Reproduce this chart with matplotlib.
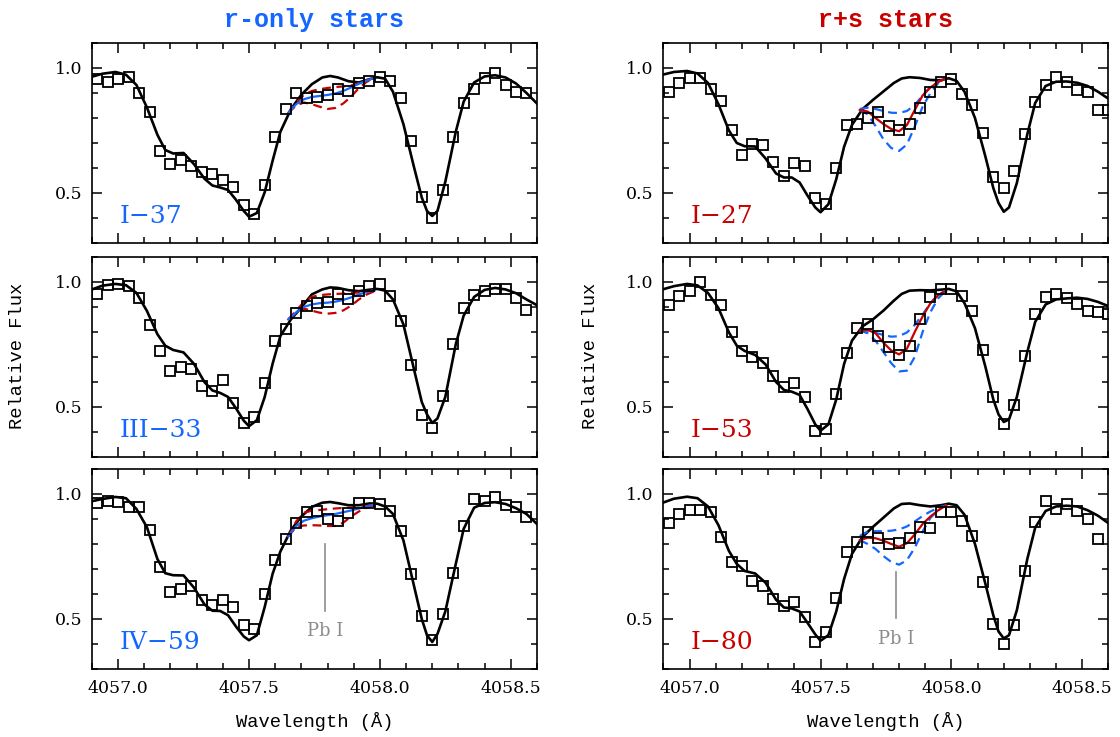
import numpy as np
import matplotlib
matplotlib.use("Agg")
import matplotlib.pyplot as plt
from matplotlib.ticker import MultipleLocator, FormatStrFormatter

# colores
BLUE = "#1466ff"
RED = "#c80000"
GREY = "#8c8c8c"

# ---- datos ----
# malla del espectro sintetico (comun a los 6 paneles)
wave_syn = [4056.90, 4056.94, 4056.99, 4057.03, 4057.07, 4057.11, 4057.15, 4057.18, 4057.21, 4057.25,
            4057.29, 4057.33, 4057.36, 4057.39, 4057.42, 4057.45, 4057.48, 4057.50, 4057.53, 4057.56,
            4057.59, 4057.62, 4057.66, 4057.70, 4057.74, 4057.78, 4057.81, 4057.84, 4057.88, 4057.92,
            4057.96, 4057.99, 4058.02, 4058.05, 4058.09, 4058.13, 4058.16, 4058.18, 4058.20, 4058.22,
            4058.25, 4058.29, 4058.32, 4058.36, 4058.40, 4058.44, 4058.48, 4058.52, 4058.56, 4058.60]

# malla de los puntos observados
wave_obs = [4056.92, 4056.96, 4057.00, 4057.04, 4057.08, 4057.12, 4057.16, 4057.20, 4057.24, 4057.28,
            4057.32, 4057.36, 4057.40, 4057.44, 4057.48, 4057.52, 4057.56, 4057.60, 4057.64, 4057.68,
            4057.72, 4057.76, 4057.80, 4057.84, 4057.88, 4057.92, 4057.96, 4058.00, 4058.04, 4058.08,
            4058.12, 4058.16, 4058.20, 4058.24, 4058.28, 4058.32, 4058.36, 4058.40, 4058.44, 4058.48,
            4058.52, 4058.56, 4058.60]

# malla de los ajustes de Pb I
wave_pb = [4057.65, 4057.68, 4057.71, 4057.74, 4057.77, 4057.80, 4057.83, 4057.86, 4057.89, 4057.92,
           4057.95, 4057.98]

nan = np.nan

# --- estrellas r-only ---
syn_I37 = [0.965, 0.977, 0.984, 0.973, 0.932, 0.842, 0.733, 0.672, 0.658, 0.660,
           0.615, 0.557, 0.530, 0.522, 0.512, 0.473, 0.428, 0.405, 0.420, 0.503,
           0.628, 0.745, 0.835, 0.893, 0.935, 0.962, 0.968, 0.962, 0.947, 0.942,
           0.955, 0.963, 0.957, 0.905, 0.775, 0.605, 0.482, 0.428, 0.408, 0.428,
           0.545, 0.745, 0.865, 0.942, 0.966, 0.971, 0.962, 0.938, 0.900, 0.858]
obs_I37 = [0.954, 0.945, 0.955, 0.964, 0.901, 0.823, 0.666, 0.615, 0.632, 0.606,
           0.582, 0.575, 0.553, 0.522, 0.452, 0.414, 0.533, 0.723, 0.835, 0.898,
           0.881, 0.885, 0.892, 0.914, 0.909, 0.938, 0.947, 0.964, 0.949, 0.879,
           0.707, 0.483, 0.401, 0.513, 0.723, 0.859, 0.914, 0.958, 0.978, 0.931,
           0.902, 0.901, nan]
fit_I37 = [0.820, 0.855, 0.875, 0.884, 0.888, 0.892, 0.898, 0.908, 0.922, 0.937, 0.950, 0.960]
lo_I37 = [0.820, 0.850, 0.862, 0.855, 0.845, 0.836, 0.840, 0.858, 0.885, 0.920, 0.945, 0.958]
hi_I37 = [0.820, 0.860, 0.893, 0.908, 0.915, 0.920, 0.924, 0.926, 0.930, 0.940, 0.952, 0.960]

syn_III33 = [0.970, 0.985, 0.992, 0.987, 0.956, 0.884, 0.791, 0.745, 0.728, 0.718,
             0.672, 0.599, 0.566, 0.556, 0.540, 0.495, 0.445, 0.423, 0.447, 0.540,
             0.672, 0.784, 0.850, 0.898, 0.950, 0.970, 0.978, 0.976, 0.967, 0.963,
             0.969, 0.972, 0.965, 0.930, 0.830, 0.652, 0.520, 0.470, 0.436, 0.454,
             0.540, 0.751, 0.865, 0.940, 0.968, 0.976, 0.970, 0.955, 0.930, 0.907]
obs_III33 = [0.950, 0.989, 0.993, 0.985, 0.935, 0.829, 0.725, 0.642, 0.661, 0.651,
             0.582, 0.563, 0.607, 0.517, 0.434, 0.458, 0.597, 0.765, 0.813, 0.877,
             0.902, 0.917, 0.918, 0.952, 0.930, 0.964, 0.984, 0.991, 0.942, 0.843,
             0.668, 0.467, 0.414, 0.544, 0.750, 0.897, 0.946, 0.962, 0.972, 0.970,
             0.934, 0.886, nan]
fit_III33 = [0.850, 0.878, 0.900, 0.910, 0.915, 0.917, 0.921, 0.928, 0.938, 0.950, 0.960, 0.966]
lo_III33 = [0.850, 0.875, 0.893, 0.885, 0.877, 0.873, 0.876, 0.886, 0.905, 0.930, 0.950, 0.963]
hi_III33 = [0.850, 0.885, 0.920, 0.940, 0.947, 0.950, 0.952, 0.953, 0.955, 0.958, 0.962, 0.966]

syn_IV59 = [0.971, 0.980, 0.988, 0.983, 0.940, 0.867, 0.740, 0.683, 0.675, 0.674,
            0.625, 0.558, 0.533, 0.532, 0.515, 0.470, 0.430, 0.415, 0.435, 0.548,
            0.680, 0.770, 0.855, 0.910, 0.948, 0.965, 0.968, 0.963, 0.955, 0.955,
            0.962, 0.961, 0.950, 0.920, 0.814, 0.634, 0.500, 0.435, 0.408, 0.440,
            0.530, 0.720, 0.860, 0.945, 0.964, 0.967, 0.960, 0.943, 0.920, 0.880]
obs_IV59 = [0.963, 0.971, 0.967, 0.947, 0.947, 0.856, 0.707, 0.608, 0.621, 0.630,
            0.574, 0.557, 0.577, 0.548, 0.475, 0.461, 0.598, 0.737, 0.820, 0.883,
            0.927, 0.931, 0.900, 0.891, 0.923, 0.964, 0.964, 0.960, 0.931, 0.851,
            0.678, 0.511, 0.415, 0.519, 0.685, 0.870, 0.980, 0.971, 0.987, 0.957,
            0.949, 0.907, nan]
fit_IV59 = [0.830, 0.872, 0.893, 0.903, 0.910, 0.915, 0.920, 0.927, 0.934, 0.942, 0.950, 0.958]
lo_IV59 = [0.830, 0.868, 0.874, 0.875, 0.874, 0.872, 0.872, 0.885, 0.910, 0.930, 0.945, 0.956]
hi_IV59 = [0.830, 0.890, 0.925, 0.933, 0.936, 0.939, 0.942, 0.944, 0.946, 0.948, 0.952, 0.958]

# --- estrellas r+s ---
syn_I27 = [0.974, 0.984, 0.988, 0.978, 0.940, 0.855, 0.750, 0.700, 0.687, 0.686,
           0.638, 0.578, 0.562, 0.562, 0.542, 0.490, 0.442, 0.423, 0.455, 0.555,
           0.685, 0.772, 0.835, 0.872, 0.906, 0.940, 0.958, 0.963, 0.960, 0.952,
           0.951, 0.959, 0.948, 0.905, 0.800, 0.645, 0.520, 0.460, 0.425, 0.442,
           0.540, 0.735, 0.860, 0.928, 0.945, 0.946, 0.941, 0.928, 0.905, 0.877]
obs_I27 = [0.902, 0.938, 0.958, 0.958, 0.914, 0.869, 0.751, 0.650, 0.694, 0.691,
           0.624, 0.566, 0.621, 0.606, 0.479, 0.454, 0.599, 0.770, 0.776, 0.799,
           0.822, 0.766, 0.751, 0.776, 0.839, 0.902, 0.942, 0.955, 0.896, 0.850,
           0.740, 0.562, 0.518, 0.586, 0.734, 0.865, 0.931, 0.962, 0.945, 0.912,
           0.902, 0.832, 0.832]
fit_I27 = [0.832, 0.826, 0.800, 0.776, 0.756, 0.747, 0.772, 0.832, 0.890, 0.922, 0.945, 0.958]
lo_I27 = [0.832, 0.815, 0.768, 0.715, 0.680, 0.668, 0.694, 0.766, 0.845, 0.900, 0.940, 0.958]
hi_I27 = [0.836, 0.841, 0.836, 0.828, 0.821, 0.820, 0.828, 0.852, 0.890, 0.925, 0.945, 0.958]

syn_I53 = [0.971, 0.983, 0.992, 0.986, 0.956, 0.895, 0.798, 0.745, 0.724, 0.708,
           0.670, 0.600, 0.568, 0.561, 0.548, 0.492, 0.430, 0.405, 0.430, 0.530,
           0.672, 0.765, 0.822, 0.850, 0.885, 0.925, 0.952, 0.965, 0.967, 0.966,
           0.969, 0.972, 0.962, 0.915, 0.815, 0.660, 0.530, 0.470, 0.440, 0.450,
           0.540, 0.720, 0.840, 0.910, 0.930, 0.934, 0.937, 0.932, 0.920, 0.903]
obs_I53 = [0.907, 0.943, 0.963, 1.000, 0.947, 0.907, 0.800, 0.722, 0.701, 0.676,
           0.622, 0.579, 0.597, 0.540, 0.405, 0.411, 0.553, 0.716, 0.817, 0.833,
           0.784, 0.741, 0.708, 0.745, 0.851, 0.939, 0.972, 0.972, 0.943, 0.884,
           0.728, 0.540, 0.430, 0.507, 0.705, 0.870, 0.939, 0.952, 0.937, 0.910,
           0.884, 0.880, 0.873]
fit_I53 = [0.805, 0.808, 0.795, 0.757, 0.726, 0.710, 0.733, 0.800, 0.862, 0.915, 0.948, 0.965]
lo_I53 = [0.805, 0.795, 0.765, 0.720, 0.675, 0.642, 0.645, 0.700, 0.800, 0.880, 0.935, 0.966]
hi_I53 = [0.805, 0.805, 0.796, 0.788, 0.781, 0.783, 0.798, 0.828, 0.870, 0.915, 0.950, 0.966]

syn_I80 = [0.966, 0.981, 0.989, 0.983, 0.950, 0.875, 0.772, 0.720, 0.692, 0.682,
           0.645, 0.577, 0.546, 0.542, 0.530, 0.485, 0.438, 0.413, 0.435, 0.530,
           0.660, 0.760, 0.828, 0.868, 0.905, 0.942, 0.960, 0.962, 0.955, 0.950,
           0.955, 0.961, 0.955, 0.917, 0.800, 0.640, 0.515, 0.450, 0.422, 0.435,
           0.535, 0.740, 0.865, 0.932, 0.950, 0.953, 0.950, 0.935, 0.913, 0.883]
obs_I80 = [0.882, 0.921, 0.937, 0.937, 0.928, 0.828, 0.729, 0.711, 0.650, 0.630,
           0.579, 0.553, 0.567, 0.509, 0.409, 0.446, 0.584, 0.768, 0.809, 0.849,
           0.825, 0.799, 0.805, 0.822, 0.867, 0.864, 0.926, 0.928, 0.893, 0.832,
           0.647, 0.479, 0.401, 0.474, 0.693, 0.888, 0.970, 0.939, 0.959, 0.933,
           0.901, 0.818, nan]
fit_I80 = [0.815, 0.825, 0.823, 0.813, 0.800, 0.789, 0.803, 0.838, 0.880, 0.910, 0.935, 0.955]
lo_I80 = [0.815, 0.800, 0.780, 0.752, 0.728, 0.717, 0.735, 0.785, 0.850, 0.905, 0.935, 0.955]
hi_I80 = [0.832, 0.850, 0.851, 0.851, 0.853, 0.858, 0.870, 0.890, 0.912, 0.930, 0.945, 0.955]

# Pb I: posicion de la linea y alturas de la marca
pb_wave = 4057.79
pb_mark = {"left": (0.800, 0.532, 0.452), "right": (0.687, 0.503, 0.418)}

# ---- figura ----
plt.rcParams["font.family"] = "DejaVu Serif"
MONO = "Liberation Mono"

fig = plt.figure(figsize=(11.2, 7.37), dpi=100)

col_x = [0.0821, 0.5924]
row_y = [0.6703, 0.3800, 0.0923]
w, h = 0.3973, 0.2714


def style_axes(ax, bottom_labels):
    ax.set_xlim(4056.9, 4058.6)
    ax.set_ylim(0.30, 1.10)
    ax.xaxis.set_major_locator(MultipleLocator(0.5))
    ax.xaxis.set_minor_locator(MultipleLocator(0.1))
    ax.yaxis.set_major_locator(MultipleLocator(0.5))
    ax.yaxis.set_minor_locator(MultipleLocator(0.1))
    ax.xaxis.set_major_formatter(FormatStrFormatter("%.1f"))
    ax.yaxis.set_major_formatter(FormatStrFormatter("%.1f"))
    ax.tick_params(which="both", direction="in", top=True, right=True, width=1.1)
    ax.tick_params(which="major", length=7, labelsize=12.5)
    ax.tick_params(which="minor", length=4)
    ax.tick_params(axis="y", pad=7)
    ax.tick_params(axis="x", pad=8)
    if not bottom_labels:
        ax.tick_params(axis="x", labelbottom=False)
    for s in ax.spines.values():
        s.set_linewidth(1.2)


def draw_panel(ax, syn, obs, fit, lo, hi, name, best_color, alt_color):
    ax.plot(wave_syn, syn, color="black", lw=1.9, zorder=2)
    # modelos alternativos (discontinuos) y el mejor ajuste (continuo)
    ax.plot(wave_pb, lo, color=alt_color, lw=1.6, ls=(0, (4, 2.5)), zorder=3)
    ax.plot(wave_pb, hi, color=alt_color, lw=1.6, ls=(0, (4, 2.5)), zorder=3)
    ax.plot(wave_pb, fit, color=best_color, lw=1.6, zorder=4)
    ax.plot(wave_obs, obs, ls="none", marker="s", ms=6.5, mfc="none", mec="black",
            mew=1.3, zorder=5)
    ax.text(0.062, 0.10, name, transform=ax.transAxes, color=best_color,
            fontsize=18, ha="left", va="baseline")


panels = [
    (0, 0, syn_I37, obs_I37, fit_I37, lo_I37, hi_I37, "I\u221237"),
    (0, 1, syn_III33, obs_III33, fit_III33, lo_III33, hi_III33, "III\u221233"),
    (0, 2, syn_IV59, obs_IV59, fit_IV59, lo_IV59, hi_IV59, "IV\u221259"),
    (1, 0, syn_I27, obs_I27, fit_I27, lo_I27, hi_I27, "I\u221227"),
    (1, 1, syn_I53, obs_I53, fit_I53, lo_I53, hi_I53, "I\u221253"),
    (1, 2, syn_I80, obs_I80, fit_I80, lo_I80, hi_I80, "I\u221280"),
]

for col, row, syn, obs, fit, lo, hi, name in panels:
    ax = fig.add_axes([col_x[col], row_y[row], w, h])
    if col == 0:
        draw_panel(ax, syn, obs, fit, lo, hi, name, BLUE, RED)
    else:
        draw_panel(ax, syn, obs, fit, lo, hi, name, RED, BLUE)
    style_axes(ax, row == 2)
    if row == 2:
        top, bot, txt = pb_mark["left" if col == 0 else "right"]
        ax.plot([pb_wave, pb_wave], [top, bot], color=GREY, lw=1.2, zorder=1)
        ax.text(pb_wave, txt, "Pb I", color=GREY, fontsize=13, ha="center", va="center")

# titulos y etiquetas
fig.text(col_x[0] + w / 2, 0.9634, "r-only stars", color=BLUE, fontsize=18,
         family=MONO, weight="bold", ha="center", va="baseline")
fig.text(col_x[1] + w / 2, 0.9634, "r+s stars", color=RED, fontsize=18,
         family=MONO, weight="bold", ha="center", va="baseline")

for cx, lx in zip(col_x, [0.016, 0.527]):
    fig.text(lx, 0.517, "Relative Flux", rotation=90, fontsize=13.5, family=MONO,
             ha="center", va="center")
    fig.text(cx + w / 2, 0.021, "Wavelength (\u00c5)", fontsize=13.5, family=MONO,
             ha="center", va="center")

fig.savefig("out.png", dpi=100)
